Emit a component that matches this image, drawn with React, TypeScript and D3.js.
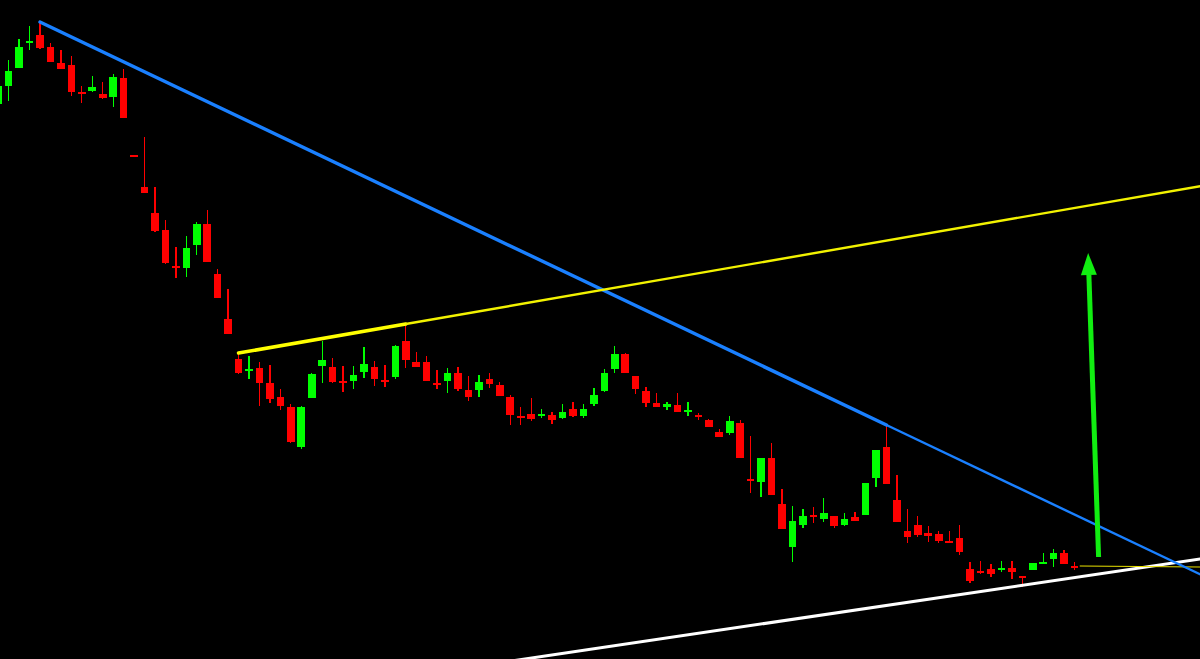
import React from "react";
import * as d3 from "d3";

// OHLC values (price units), one entry per candle
const opens = [596,614,632,657,665,653,637,635,608,609,606,603,622,545,513,487,470,434,432,455,476,426,381,341,330,332,317,303,293,253,302,334,333,319,319,328,333,320,323,359,338,338,317,319,327,310,310,321,315,303,284,286,284,285,282,291,284,296,309,331,346,324,309,297,293,295,289,285,280,268,267,277,221,218,242,196,153,175,185,181,184,175,183,185,222,253,200,169,175,167,166,159,162,131,129,131,131,132,124,130,137,141,147,134];
const closes = [614,629,653,659,652,638,631,608,606,613,602,623,582,543,507,469,437,432,452,476,438,402,366,327,331,317,301,294,258,293,326,340,318,317,325,336,321,319,354,340,333,319,315,327,311,303,318,316,304,285,283,281,286,280,288,284,291,305,327,346,327,311,297,293,296,288,290,283,273,263,279,242,219,242,205,171,179,184,183,187,174,181,179,217,250,216,178,163,165,164,159,157,148,119,127,126,132,128,122,137,138,147,136,133];
const highs = [617,640,661,674,678,657,650,644,614,624,618,626,631,545,563,513,480,453,464,478,490,431,411,347,344,338,335,311,296,294,327,359,342,334,334,353,339,335,355,376,348,344,330,332,333,324,325,327,318,305,293,302,291,288,296,298,296,312,331,354,347,324,313,307,298,307,298,287,281,271,284,280,264,242,257,211,194,191,193,202,184,187,188,217,250,275,225,191,184,174,169,169,175,138,139,136,139,139,124,137,147,151,150,138];
const lows = [594,599,632,650,651,638,631,604,597,608,601,593,582,543,507,468,436,422,423,445,438,402,366,326,321,294,297,290,257,251,302,317,317,308,311,322,314,313,321,332,333,319,311,307,309,299,303,312,304,275,275,279,282,276,281,283,282,294,308,327,327,306,293,293,290,288,284,280,273,263,265,242,207,203,205,171,138,172,177,178,172,174,179,185,213,216,178,157,163,158,157,157,145,117,126,123,128,121,113,130,136,133,136,130];

// Drawn trend lines: anchor points as [candle index, price]
const blueLine: [number, number][] = [[4, 678], [85, 275]];
const yellowLine: [number, number][] = [[23, 347], [39, 376]];
const whiteLine: [number, number][] = [[50.4, 41], [115, 141]];
const flatLine: [number, number][] = [[103.5, 134], [115, 133]];
const arrowPts: [number, number][] = [[105.3, 143], [104.3, 447]];

const W = 1200;
const H = 659;

export default function App() {
  const x = d3.scaleLinear().domain([0, 103]).range([-1.8, 1074.55]);
  const y = d3.scaleLinear().domain([700, 41]).range([0, H]);
  const bodyW = 7.6;
  const idxRight = x.invert(W + 5);
  const idxLeft = x.invert(-5);

  const extend = (pts: [number, number][], from: number, to: number) => {
    const [[i0, p0], [i1, p1]] = pts;
    const s = (p1 - p0) / (i1 - i0);
    return [
      [x(from), y(p0 + s * (from - i0))],
      [x(to), y(p0 + s * (to - i0))],
    ];
  };
  const line = d3.line();

  const blueA = extend(blueLine, blueLine[0][0], blueLine[1][0]);
  const blueB = extend(blueLine, blueLine[1][0], idxRight);
  const yelA = extend(yellowLine, yellowLine[0][0], yellowLine[1][0]);
  const yelB = extend(yellowLine, yellowLine[1][0], idxRight);
  const white = extend(whiteLine, idxLeft, idxRight);
  const flat = extend(flatLine, flatLine[0][0], idxRight);

  // arrow
  const ax0 = x(arrowPts[0][0]), ay0 = y(arrowPts[0][1]);
  const ax1 = x(arrowPts[1][0]), ay1 = y(arrowPts[1][1]);
  const dx = ax1 - ax0, dy = ay1 - ay0;
  const len = Math.hypot(dx, dy);
  const ux = dx / len, uy = dy / len;
  const headLen = 22, headW = 8;
  const bx = ax1 - ux * headLen, by = ay1 - uy * headLen;
  const px = -uy, py = ux;
  const head = `M${ax1},${ay1}L${bx + px * headW},${by + py * headW}L${bx - px * headW},${by - py * headW}Z`;

  const candles = opens.map((o, i) => ({ o, c: closes[i], h: highs[i], l: lows[i], i }));

  return (
    <svg width={W} height={H} style={{ position: "fixed", left: 0, top: 0, display: "block" }}>
      <rect x={0} y={0} width={W} height={H} fill="#000" />
      <g shapeRendering="crispEdges">
        {candles.map((d) => {
          const up = d.c >= d.o;
          const col = up ? "#00ff00" : "#ff0000";
          const cx = x(d.i);
          const top = y(Math.max(d.o, d.c));
          const bot = y(Math.min(d.o, d.c));
          const bh = Math.max(2, bot - top);
          return (
            <g key={d.i}>
              <line x1={cx} x2={cx} y1={y(d.h)} y2={y(d.l)} stroke={col} strokeWidth={1.3} />
              <rect x={cx - bodyW / 2} y={top} width={bodyW} height={bh} fill={col} />
            </g>
          );
        })}
      </g>
      <path d={line(white as any) || ""} stroke="#ffffff" strokeWidth={3} fill="none" />
      <path d={line(flat as any) || ""} stroke="#e8e000" strokeWidth={1.2} fill="none" />
      <path d={line(blueA as any) || ""} stroke="#1a80ff" strokeWidth={3.4} fill="none" strokeLinecap="round" />
      <path d={line(blueB as any) || ""} stroke="#1a80ff" strokeWidth={2.4} fill="none" />
      <path d={line(yelA as any) || ""} stroke="#ffff00" strokeWidth={3.6} fill="none" strokeLinecap="round" />
      <path d={line(yelB as any) || ""} stroke="#f2f200" strokeWidth={2.4} fill="none" />
      <line x1={ax0} y1={ay0} x2={bx} y2={by} stroke="#11ee11" strokeWidth={5} />
      <path d={head} fill="#11ee11" />
    </svg>
  );
}
